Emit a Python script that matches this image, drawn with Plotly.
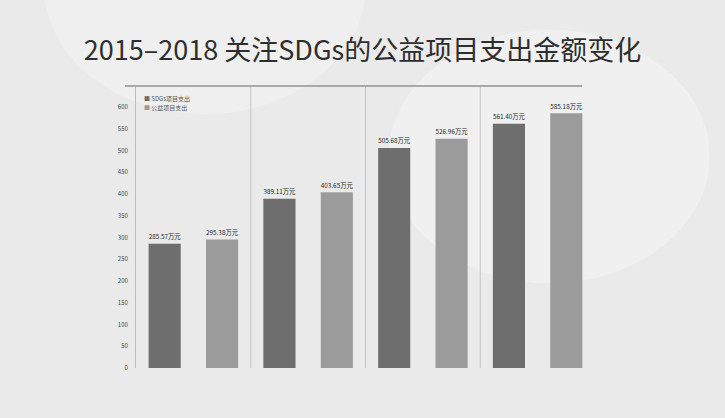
import plotly.graph_objects as go

years = ["2015", "2016", "2017", "2018"]
series_names = ["SDGs项目支出", "公益项目支出"]
sdg_values = [285.57, 389.11, 505.68, 561.40]
all_values = [295.38, 403.65, 526.96, 585.18]
y_ticks = [0, 50, 100, 150, 200, 250, 300, 350, 400, 450, 500, 550, 600]

dark = "#6e6e6e"
light = "#9b9b9b"

fig = go.Figure()
for name, vals, col in [(series_names[0], sdg_values, dark), (series_names[1], all_values, light)]:
    fig.add_trace(go.Bar(
        x=years, y=vals, name=name, marker=dict(color=col, line=dict(width=0)),
        texttemplate="%{y:.2f}万元", textposition="outside",
        textfont=dict(size=7, color="#1e1e1e", family="Noto Sans CJK SC"),
        cliponaxis=False, showlegend=False,
    ))

fig.update_layout(
    width=725, height=418,
    margin=dict(l=136, r=130, t=86, b=50),
    paper_bgcolor="#eaeaea", plot_bgcolor="rgba(0,0,0,0)",
    barmode="group", bargap=0.0, bargroupgap=0.44,
    title=dict(text="2015–2018 关注SDGs的公益项目支出金额变化", x=0.5, xanchor="center",
               y=0.88, yanchor="middle",
               font=dict(size=27, color="#2e2e2e", family="Noto Sans CJK SC")),
    font=dict(family="Noto Sans CJK SC"),
    xaxis=dict(showticklabels=False, showgrid=False, zeroline=False, showline=False, ticks=""),
    yaxis=dict(range=[0, 648], tickvals=y_ticks, showgrid=False, zeroline=False,
               showline=True, linecolor="#bdbdbd", linewidth=1, ticks="",
               tickfont=dict(size=6, color="#444444"), ticklabelstandoff=6),
)

# background soft highlights
fig.add_shape(type="circle", xref="paper", yref="paper", x0=0.55, x1=1.25, y0=0.3, y1=1.2,
              fillcolor="rgba(255,255,255,0.3)", line=dict(width=0), layer="below")
fig.add_shape(type="circle", xref="paper", yref="paper", x0=-0.2, x1=0.5, y0=0.9, y1=1.8,
              fillcolor="rgba(255,255,255,0.25)", line=dict(width=0), layer="below")

# group separators
for i in range(1, len(years)):
    fig.add_shape(type="line", xref="x", yref="paper", x0=i - 0.5, x1=i - 0.5, y0=0, y1=1,
                  line=dict(color="#c4c4c4", width=1), layer="below")
# top rule
fig.add_shape(type="line", xref="paper", yref="paper", x0=-0.024, x1=0.972, y0=1, y1=1,
              line=dict(color="#a8a8a8", width=2))

# legend
for i, (name, col) in enumerate([(series_names[0], dark), (series_names[1], light)]):
    fig.add_annotation(xref="paper", yref="paper", x=0.012, y=0.955 - i * 0.033,
                       xanchor="left", yanchor="middle", showarrow=False,
                       text=f"<span style='color:{col}'>■</span> {name}",
                       font=dict(size=6, color="#555555"))

fig.write_html("out.html", config={"displayModeBar": False},
               post_script="document.body.style.margin='0';")
